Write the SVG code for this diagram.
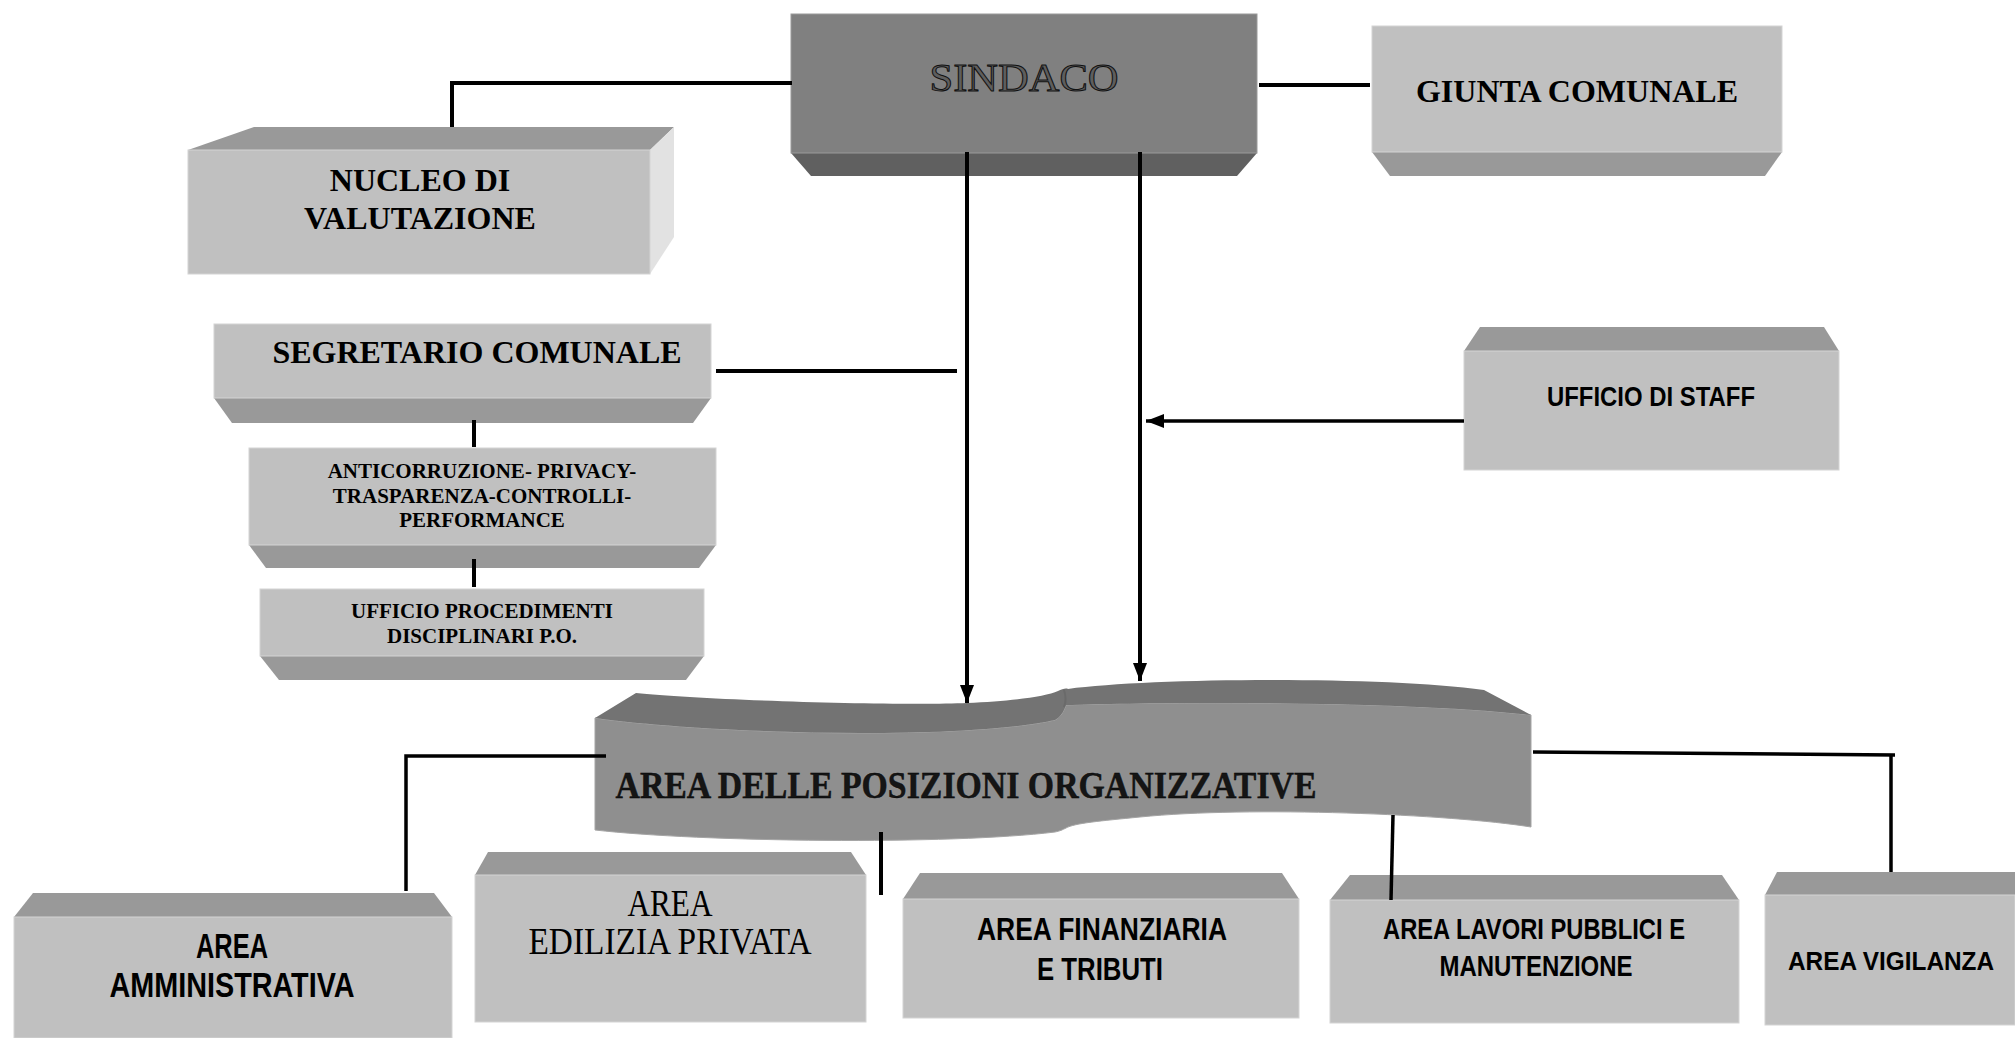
<svg xmlns="http://www.w3.org/2000/svg" width="2015" height="1038" viewBox="0 0 2015 1038">
<style>
.front{fill:#c0c0c0;stroke:#d4d4d4;stroke-width:1}
.face{fill:#999999}
.side{fill:#e2e2e2}
.tb{font-family:"Liberation Serif","Times New Roman",serif;font-weight:bold;fill:#000;text-anchor:middle}
.tr{font-family:"Liberation Serif","Times New Roman",serif;font-weight:normal;fill:#000;text-anchor:middle}
.sb{font-family:"Liberation Sans",Arial,sans-serif;font-weight:bold;fill:#000;text-anchor:middle}
.ln{stroke:#000;stroke-width:4;fill:none}
.ln3{stroke:#000;stroke-width:3.5;fill:none}
</style>
<defs>
<marker id="arr" markerUnits="userSpaceOnUse" markerWidth="18" markerHeight="14" refX="18" refY="7" orient="auto">
<path d="M0,0 L18,7 L0,14 Z" fill="#000"/>
</marker>
</defs>
<rect width="2015" height="1038" fill="#fff"/>

<g id="nucleo">
<polygon class="face" points="188,150 254,127 674,127 650,150"/>
<polygon class="side" points="650,150 674,127 674,237 650,274"/>
<rect class="front" x="188" y="150" width="462" height="124"/>
<text class="tb" x="420" y="191" font-size="32">NUCLEO DI</text>
<text class="tb" x="420" y="229" font-size="32">VALUTAZIONE</text>
</g>

<g id="sindaco">
<polygon fill="#606060" points="791,153 1257,153 1237,176 811,176"/>
<rect x="791" y="14" width="466" height="139" fill="#808080" stroke="#9a9a9a" stroke-width="1"/>
<text x="1024" y="91" font-family="'Liberation Serif','Times New Roman',serif" font-size="40" text-anchor="middle" fill="#5e5e5e" stroke="#111" stroke-width="1" textLength="189" lengthAdjust="spacingAndGlyphs">SINDACO</text>
</g>

<g id="giunta">
<polygon class="face" points="1372,152 1782,152 1765,176 1390,176"/>
<rect class="front" x="1372" y="26" width="410" height="126"/>
<text class="tb" x="1577" y="102" font-size="32">GIUNTA COMUNALE</text>
</g>

<g id="staff">
<polygon class="face" points="1480,327 1824,327 1839,351 1464,351"/>
<rect class="front" x="1464" y="351" width="375" height="119"/>
<text class="sb" x="1651" y="406" font-size="27" textLength="208" lengthAdjust="spacingAndGlyphs">UFFICIO DI STAFF</text>
</g>

<g id="segretario">
<polygon class="face" points="214,398 711,398 693,423 232,423"/>
<rect class="front" x="214" y="324" width="497" height="74"/>
<text class="tb" x="477" y="363" font-size="32">SEGRETARIO COMUNALE</text>
</g>

<g id="anticorruzione">
<polygon class="face" points="249,545 716,545 699,568 266,568"/>
<rect class="front" x="249" y="448" width="467" height="97"/>
<text class="tb" x="482" y="478" font-size="21">ANTICORRUZIONE- PRIVACY-</text>
<text class="tb" x="482" y="503" font-size="21">TRASPARENZA-CONTROLLI-</text>
<text class="tb" x="482" y="527" font-size="21">PERFORMANCE</text>
</g>

<g id="procedimenti">
<polygon class="face" points="260,656 704,656 686,680 279,680"/>
<rect class="front" x="260" y="589" width="444" height="67"/>
<text class="tb" x="482" y="618" font-size="21">UFFICIO PROCEDIMENTI</text>
<text class="tb" x="482" y="643" font-size="21">DISCIPLINARI P.O.</text>
</g>

<g id="area-po">
<path fill="#8f8f8f" stroke="#a5a5a5" stroke-width="1" d="M595,718 C650,726 760,733 860,733 C950,733 1020,728 1055,720 C1062,716 1064,710 1066,705 C1150,702 1400,700 1531,715 L1531,827 C1450,814 1250,806 1140,817 C1100,821 1075,823 1066,828 C1062,830 1060,831 1055,832 C950,845 700,842 595,830 Z"/>
<path fill="#737373" d="M595,718 L636,693 C700,700 900,706 967,703 C1010,701 1045,697 1058,691 C1062,689 1066,688 1068,689 C1150,678 1380,676 1484,690 L1531,715 C1400,700 1150,702 1066,705 C1064,710 1062,716 1055,720 C1020,728 950,733 860,733 C760,733 650,726 595,718 Z"/>
<path d="M1064,690 C1066,696 1066,702 1064,707" stroke="#6a6a6a" stroke-width="2" fill="none"/>
<text x="966" y="798" font-family="'Liberation Serif','Times New Roman',serif" font-weight="bold" font-size="37" text-anchor="middle" fill="#151515" stroke="#000" stroke-width="0.4" textLength="701" lengthAdjust="spacingAndGlyphs">AREA DELLE POSIZIONI ORGANIZZATIVE</text>
</g>

<g id="amministrativa">
<polygon class="face" points="33,893 434,893 452,917 14,917"/>
<rect class="front" x="14" y="917" width="438" height="121"/>
<text class="sb" x="232" y="958" font-size="35" textLength="72" lengthAdjust="spacingAndGlyphs">AREA</text>
<text class="sb" x="232" y="997" font-size="35" textLength="245" lengthAdjust="spacingAndGlyphs">AMMINISTRATIVA</text>
</g>

<g id="edilizia">
<polygon class="face" points="488,852 851,852 866,875 475,875"/>
<rect class="front" x="475" y="875" width="391" height="147"/>
<text class="tr" x="670" y="916" font-size="37" textLength="85" lengthAdjust="spacingAndGlyphs">AREA</text>
<text class="tr" x="670" y="954" font-size="37" textLength="283" lengthAdjust="spacingAndGlyphs">EDILIZIA PRIVATA</text>
</g>

<g id="finanziaria">
<polygon class="face" points="920,873 1282,873 1299,899 903,899"/>
<rect class="front" x="903" y="899" width="396" height="119"/>
<text class="sb" x="1102" y="940" font-size="31" textLength="250" lengthAdjust="spacingAndGlyphs">AREA FINANZIARIA</text>
<text class="sb" x="1100" y="980" font-size="31" textLength="126" lengthAdjust="spacingAndGlyphs">E TRIBUTI</text>
</g>

<g id="lavori">
<polygon class="face" points="1350,875 1722,875 1739,900 1330,900"/>
<rect class="front" x="1330" y="900" width="409" height="123"/>
<text class="sb" x="1534" y="939" font-size="30" textLength="302" lengthAdjust="spacingAndGlyphs">AREA LAVORI PUBBLICI E</text>
<text class="sb" x="1536" y="976" font-size="30" textLength="193" lengthAdjust="spacingAndGlyphs">MANUTENZIONE</text>
</g>

<g id="vigilanza">
<polygon class="face" points="1777,872 2015,872 2015,895 1765,895"/>
<rect class="front" x="1765" y="895" width="250" height="130"/>
<text class="sb" x="1891" y="970" font-size="26" textLength="206" lengthAdjust="spacingAndGlyphs">AREA VIGILANZA</text>
</g>

<g id="connectors">
<path class="ln" d="M452,127 V83 H792"/>
<path class="ln" d="M1259,85 H1370"/>
<path class="ln" d="M716,371 H957"/>
<path class="ln" d="M967,152 V703" marker-end="url(#arr)"/>
<path class="ln" d="M1140,152 V681" marker-end="url(#arr)"/>
<path class="ln3" d="M1464,421 H1146" marker-end="url(#arr)"/>
<path class="ln" d="M474,420 V447"/>
<path class="ln" d="M474,559 V587"/>
<path class="ln3" d="M606,756 H406 V891"/>
<path class="ln3" d="M1533,752 L1895,755"/>
<path class="ln3" d="M1891,754 V872"/>
<path class="ln" d="M881,832 V895"/>
<path class="ln3" d="M1393,815 L1391,900"/>
</g>
</svg>
